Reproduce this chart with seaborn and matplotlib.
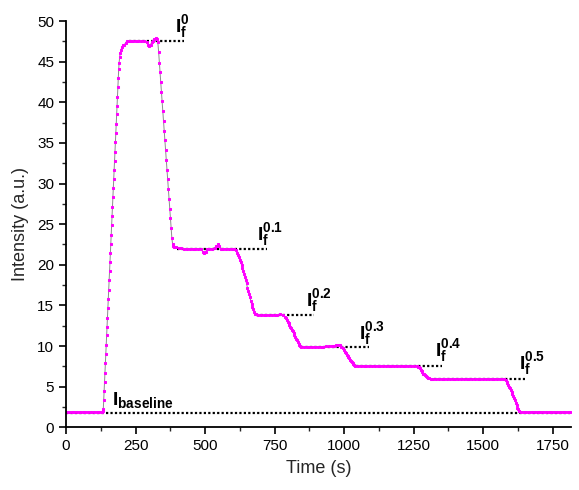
import matplotlib
matplotlib.use("Agg")
import matplotlib.pyplot as plt
import seaborn as sns
import pandas as pd
from matplotlib.ticker import MultipleLocator

# ---------------- data ----------------
time_s = [
    0, 10, 20, 30, 40, 50, 60, 70, 80, 90, 100, 110, 120, 130, 133,
    134, 135.5, 137, 138.5, 140, 141.5, 143, 144.5, 146, 147.5, 149, 150.5, 152, 153.5,
    155, 156.5, 158, 159.5, 161, 162.5, 164, 165.5, 167, 168.5, 170, 171.5, 173, 174.5,
    176, 177.5, 179, 180.5, 182, 183.5, 185, 186.5, 188, 189.5,
    191, 193, 195, 198, 202, 206, 210, 214, 218, 225, 232, 240, 250, 260, 270, 280, 290,
    296, 300, 304, 308, 313, 318, 322, 326, 330,
    333, 335.5, 338, 340.5, 343, 345.5, 348, 350.5, 353, 355.5, 358, 360.5, 363, 365.5,
    368, 370.5, 373, 375.5, 378, 380.5, 383, 386, 390,
    395, 405, 415, 425, 435, 445, 455, 465, 475, 485, 492, 497, 502, 508, 515, 525, 535,
    541, 546, 551, 558, 565, 575, 585, 595, 605, 612, 616,
    619, 622, 625, 628, 631, 634, 637, 640, 643, 646, 649, 652, 655, 658, 661, 664, 667,
    670, 673, 676, 679, 682,
    690, 700, 710, 720, 730, 740, 750, 760, 770, 780, 786,
    791, 794, 797, 800, 803, 806, 809, 812, 815, 818, 821, 824, 827, 830, 833, 836, 839,
    842, 846,
    855, 865, 875, 885, 895, 905, 915, 925, 935, 945, 955, 965, 972, 978, 984, 990, 996,
    1000, 1003, 1006, 1009, 1012, 1015, 1018, 1021, 1024, 1027, 1030, 1033, 1036, 1040,
    1050, 1060, 1070, 1080, 1090, 1100, 1110, 1120, 1130, 1140, 1150, 1160, 1170, 1180,
    1190, 1200, 1210, 1220, 1230, 1240, 1250, 1260, 1266,
    1269, 1272, 1275, 1278, 1281, 1284, 1287, 1290, 1293, 1297, 1301, 1306, 1312,
    1320, 1330, 1340, 1350, 1360, 1370, 1380, 1390, 1400, 1410, 1420, 1430, 1440, 1450,
    1460, 1470, 1480, 1490, 1500, 1510, 1520, 1530, 1540, 1550, 1560, 1570, 1576,
    1581, 1584, 1587, 1590, 1593, 1596, 1599, 1602, 1605, 1608, 1611, 1614, 1617, 1620,
    1623, 1626, 1630, 1635,
    1645, 1655, 1665, 1675, 1685, 1695, 1705, 1715, 1725, 1735, 1745, 1755, 1765, 1775,
    1785, 1795, 1805, 1810,
]
intensity = [
    1.9, 1.9, 1.88, 1.9, 1.92, 1.9, 1.89, 1.9, 1.91, 1.9, 1.9, 1.89, 1.9, 1.9, 2.0,
    2.2, 3.3, 4.5, 5.6, 6.7, 7.9, 9.0, 10.1, 11.3, 12.4, 13.5, 14.7, 15.8, 16.9,
    18.1, 19.2, 20.3, 21.5, 22.6, 23.7, 24.9, 26.0, 27.1, 28.3, 29.4, 30.5, 31.7, 32.8,
    33.9, 35.1, 36.2, 37.3, 38.5, 39.6, 40.7, 41.9, 43.0, 44.1,
    44.9, 45.6, 46.1, 46.5, 46.8, 47.0, 47.1, 47.3, 47.5, 47.5, 47.6, 47.5, 47.5, 47.6, 47.5, 47.5, 47.4,
    47.1, 46.9, 47.1, 47.4, 47.6, 47.8, 47.9, 47.8, 47.4,
    46.2, 44.9, 43.7, 42.5, 41.3, 40.1, 38.9, 37.7, 36.5, 35.3, 34.1, 32.9, 31.7, 30.5,
    29.3, 28.1, 26.9, 25.7, 24.5, 23.3, 22.6, 22.3, 22.2,
    22.2, 22.1, 22.1, 22.0, 22.0, 22.0, 22.0, 22.0, 22.0, 21.9, 21.6, 21.4, 21.6, 21.9, 22.0, 22.0, 22.1,
    22.3, 22.5, 22.3, 22.0, 22.0, 22.0, 22.0, 22.0, 21.9, 21.8, 21.5,
    21.2, 20.9, 20.6, 20.3, 20.0, 19.6, 19.2, 18.9, 18.5, 18.1, 17.7, 17.2, 16.8, 16.4, 16.0, 15.6, 15.2,
    14.8, 14.5, 14.2, 14.0, 13.9,
    13.8, 13.8, 13.8, 13.8, 13.8, 13.8, 13.8, 13.8, 13.9, 13.8, 13.6,
    13.4, 13.2, 13.0, 12.8, 12.6, 12.4, 12.2, 12.0, 11.8, 11.6, 11.4, 11.1, 10.9, 10.7, 10.5, 10.3, 10.1,
    10.0, 9.9,
    9.85, 9.9, 9.9, 9.9, 9.9, 9.9, 9.9, 9.9, 9.95, 9.95, 10.0, 10.0, 10.1, 10.15, 10.1, 9.9, 9.8,
    9.5, 9.3, 9.1, 8.9, 8.8, 8.6, 8.5, 8.3, 8.2, 8.0, 7.9, 7.8, 7.7, 7.6,
    7.55, 7.55, 7.6, 7.55, 7.55, 7.6, 7.55, 7.55, 7.55, 7.6, 7.55, 7.55, 7.55, 7.6,
    7.55, 7.55, 7.55, 7.6, 7.55, 7.55, 7.5, 7.5, 7.45,
    7.4, 7.25, 7.1, 6.9, 6.75, 6.6, 6.5, 6.4, 6.3, 6.2, 6.1, 6.05, 6.0,
    5.95, 5.95, 5.95, 5.95, 5.95, 5.95, 5.95, 5.95, 5.95, 5.95, 5.95, 5.95, 5.95, 5.95,
    5.95, 5.95, 5.95, 5.95, 5.95, 6.0, 6.0, 6.0, 6.0, 6.0, 6.0, 6.0, 5.95,
    5.8, 5.6, 5.4, 5.2, 5.0, 4.8, 4.6, 4.3, 4.1, 3.8, 3.6, 3.3, 3.0, 2.7,
    2.4, 2.2, 2.0, 1.9,
    1.9, 1.9, 1.9, 1.9, 1.9, 1.9, 1.9, 1.9, 1.9, 1.9, 1.9, 1.9, 1.9, 1.9,
    1.9, 1.9, 1.9, 1.9,
]

# reference levels (dotted lines)
level_values = [47.5, 22.0, 13.8, 9.9, 7.5, 5.9, 1.8]
level_start = [228, 400, 683, 845, 1042, 1323, 0]
level_end = [424, 724, 893, 1090, 1350, 1651, 1810]

# labels: text, x (s), y (a.u.)
label_texts = [r'$\mathbf{I_f^0}$', r'$\mathbf{I_f^{0.1}}$', r'$\mathbf{I_f^{0.2}}$',
               r'$\mathbf{I_f^{0.3}}$', r'$\mathbf{I_f^{0.4}}$', r'$\mathbf{I_f^{0.5}}$',
               r'$\mathbf{I_{baseline}}$']
label_x = [393, 688, 863, 1054, 1326, 1630, 164]
label_y = [48.7, 23.1, 14.9, 10.8, 8.7, 7.1, 2.7]

x_ticks = [0, 250, 500, 750, 1000, 1250, 1500, 1750]
y_ticks = [0, 5, 10, 15, 20, 25, 30, 35, 40, 45, 50]

# ---------------- plot ----------------
sns.set_style("ticks")
plt.rcParams['font.family'] = ['Liberation Sans', 'DejaVu Sans']
plt.rcParams['mathtext.fontset'] = 'custom'
plt.rcParams['mathtext.rm'] = 'Liberation Sans'
plt.rcParams['mathtext.it'] = 'Liberation Sans:italic'
plt.rcParams['mathtext.bf'] = 'Liberation Sans:bold'

fig = plt.figure(figsize=(5.79, 4.90), dpi=100)
ax = fig.add_axes([0.114, 0.128, 0.872, 0.829])

df = pd.DataFrame({"Time (s)": time_s, "Intensity (a.u.)": intensity})

for lv, s, e in zip(level_values, level_start, level_end):
    ax.plot([s, e], [lv, lv], color='black', lw=1.6, linestyle=(0, (1, 1)), zorder=1)

sns.lineplot(data=df, x="Time (s)", y="Intensity (a.u.)", ax=ax, estimator=None,
             sort=False, color='#8c8c8c', lw=0.7, marker='s', markersize=2.1,
             markerfacecolor='#ff00ff', markeredgecolor='#ff00ff', zorder=2)

for t, x, y in zip(label_texts, label_x, label_y):
    ax.text(x, y, t, fontsize=14, color='black', ha='left', va='baseline')

ax.set_xlim(0, 1815)
ax.set_ylim(0, 50)
ax.set_xticks(x_ticks)
ax.set_yticks(y_ticks)
ax.xaxis.set_minor_locator(MultipleLocator(125))
ax.yaxis.set_minor_locator(MultipleLocator(2.5))
ax.tick_params(axis='both', which='major', direction='out', length=5, width=1.2,
               labelsize=11, colors='black')
ax.tick_params(axis='both', which='minor', direction='out', length=3, width=1.0)
for sp in ['top', 'right']:
    ax.spines[sp].set_visible(False)
for sp in ['left', 'bottom']:
    ax.spines[sp].set_linewidth(1.3)
    ax.spines[sp].set_color('black')

ax.set_xlabel("Time (s)", fontsize=13, labelpad=5)
ax.set_ylabel("Intensity (a.u.)", fontsize=13, labelpad=6)

fig.savefig("out.png", dpi=100)
